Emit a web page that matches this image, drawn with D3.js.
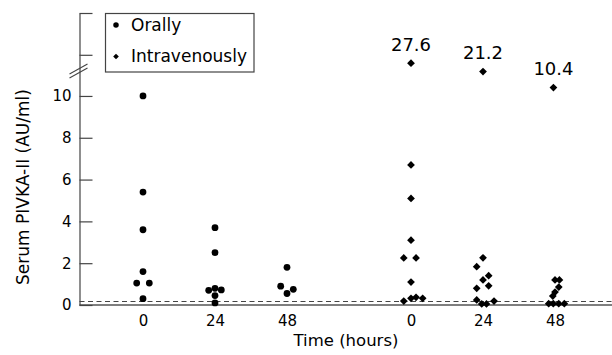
<!DOCTYPE html>
<html>
<head>
<meta charset="utf-8">
<script src="https://cdn.jsdelivr.net/npm/d3@7"></script>
<style>
  body { margin: 0; background: #fff; }
  text { font-family: "DejaVu Sans", sans-serif; fill: #000; }
</style>
</head>
<body>
<svg id="chart" width="612" height="355"></svg>
<script>
// groups on the x axis and the sampling times inside each group
const groups = ["Orally", "Intravenously"];
const times = [0, 24, 48];

// serum PIVKA-II (AU/ml), one list per time point
const oralValues = [
    [10.0, 5.4, 3.6, 1.6, 1.05, 1.05, 0.3],
    [3.7, 2.5, 0.7, 0.8, 0.72, 0.45, 0.1],
    [1.8, 0.9, 0.55, 0.75]
];
const ivValues = [
    [27.6, 6.7, 5.1, 3.1, 2.25, 2.25, 1.1, 0.19, 0.32, 0.37, 0.32],
    [21.2, 2.26, 1.83, 1.4, 1.2, 0.92, 0.8, 0.24, 0.05, 0.05, 0.19],
    [10.4, 1.2, 1.2, 0.86, 0.62, 0.43, 0.06, 0.06, 0.06, 0.06]
];
// side-by-side slot of each point (so equal values don't overlap)
const oralSlots = [
    [0, 0, 0, 0, -1, 1, 0],
    [0, 0, -1, 0, 1, 0, 0],
    [0, -1, 0, 1]
];
const ivSlots = [
    [0, 0, 0, 0, -1.15, 0.8, 0, -1.15, 0, 0.8, 1.85],
    [0, 0, -1, 0.9, 0, 0.9, -1, -1, -0.2, 0.55, 1.75],
    [-0.25, 0, 0.7, 0.6, 0, -0.35, -1, -0.27, 0.59, 1.48]
];

const cutoff = 0.17;                 // dashed reference line
const lowerTicks = [0, 2, 4, 6, 8, 10];
const upperTicks = [34, 66];         // unlabelled ticks above the break
const breakAt = 22;

const svg = d3.select("#chart");
svg.append("rect").attr("width", 612).attr("height", 355).attr("fill", "#fff");

// broken y scale: linear up to 10.5, compressed above it
const y = d3.scaleLinear().domain([0, 10.5, 66]).range([305, 85.5, 13]);
const gx = d3.scalePoint().domain(groups).range([143, 411]);
const tx = d3.scaleLinear().domain([0, 48]).range([0, 144]);
const jitter = d3.scaleLinear().domain([0, 1]).range([0, 6.3]);
const axisX = 79.5;

// dashed cut-off line and x base line
svg.append("line")
    .attr("x1", axisX).attr("x2", 612)
    .attr("y1", y(cutoff)).attr("y2", y(cutoff))
    .attr("stroke", "#444").attr("stroke-width", 1.1)
    .attr("stroke-dasharray", "5,3.5");

svg.append("line")
    .attr("x1", axisX).attr("x2", 612)
    .attr("y1", y(0)).attr("y2", y(0))
    .attr("stroke", "#555").attr("stroke-width", 1.3);

// y axis
const yAxis = svg.append("g")
    .attr("transform", `translate(${axisX},0)`)
    .call(d3.axisLeft(y)
        .tickValues([...lowerTicks, ...upperTicks])
        .tickFormat(d => lowerTicks.includes(d) ? d : "")
        .tickSizeInner(-13)
        .tickSizeOuter(0)
        .tickPadding(8));
yAxis.attr("font-family", null).attr("font-size", 15);
yAxis.selectAll("path, line").attr("stroke", "#444").attr("stroke-width", 1.2);
yAxis.selectAll("text").attr("fill", "#000");

// break marks on the y axis
const by = y(breakAt);
[-2, 2].forEach(off => {
    svg.append("line")
        .attr("x1", axisX - 10).attr("y1", by + 5.5 + off)
        .attr("x2", axisX + 8).attr("y2", by - 4.5 + off)
        .attr("stroke", "#444").attr("stroke-width", 1.1);
});

// x labels, one small axis per group
groups.forEach(g => {
    const ax = svg.append("g")
        .attr("transform", `translate(${gx(g)},${y(0)})`)
        .call(d3.axisBottom(tx).tickValues(times).tickSize(0).tickPadding(10));
    ax.select(".domain").remove();
    ax.attr("font-family", null).attr("font-size", 15);
    ax.selectAll("text").attr("fill", "#000");
});

// flatten values into points
const points = [];
[[oralValues, oralSlots, "Orally"], [ivValues, ivSlots, "Intravenously"]].forEach(([vals, slots, g]) => {
    vals.forEach((list, ti) => {
        list.forEach((v, i) => points.push({ group: g, time: times[ti], value: v, slot: slots[ti][i] }));
    });
});

const circle = d3.symbol(d3.symbolCircle, 36);
const diamond = d3.symbol(d3.symbolSquare, 30);

svg.append("g").selectAll("path")
    .data(points)
    .join("path")
    .attr("d", d => d.group === "Orally" ? circle() : diamond())
    .attr("transform", d => {
        const px = gx(d.group) + tx(d.time) + jitter(d.slot);
        return `translate(${px},${y(d.value)})` + (d.group === "Orally" ? "" : " rotate(45)");
    })
    .attr("fill", "#000");

// value labels for the off-scale points
svg.append("g").selectAll("text")
    .data(points.filter(d => d.value > 10 && d.group === "Intravenously"))
    .join("text")
    .attr("x", d => gx(d.group) + tx(d.time) + jitter(d.slot))
    .attr("y", d => y(d.value) - 12.5)
    .attr("text-anchor", "middle")
    .attr("font-size", 18)
    .text(d => d3.format(".1f")(d.value));

// axis titles
svg.append("text")
    .attr("x", 346).attr("y", 346)
    .attr("text-anchor", "middle")
    .attr("font-size", 16.5)
    .text("Time (hours)");

svg.append("text")
    .attr("transform", "translate(29,187) rotate(-90)")
    .attr("text-anchor", "middle")
    .attr("font-size", 17)
    .text("Serum PIVKA-II (AU/ml)");

// legend
const legend = svg.append("g");
legend.append("rect")
    .attr("x", 105.5).attr("y", 13.5)
    .attr("width", 148.5).attr("height", 58.5)
    .attr("fill", "#fff").attr("stroke", "#444").attr("stroke-width", 1.2);

const smallCircle = d3.symbol(d3.symbolCircle, 24);
const smallDiamond = d3.symbol(d3.symbolSquare, 16);
groups.forEach((g, i) => {
    const base = 30.5 + i * 31.5;
    legend.append("path")
        .attr("d", g === "Orally" ? smallCircle() : smallDiamond())
        .attr("transform", `translate(116,${base - 5.5})` + (g === "Orally" ? "" : " rotate(45)"))
        .attr("fill", "#000");
    legend.append("text")
        .attr("x", 131).attr("y", base)
        .attr("font-size", 17)
        .text(g);
});
</script>
</body>
</html>
